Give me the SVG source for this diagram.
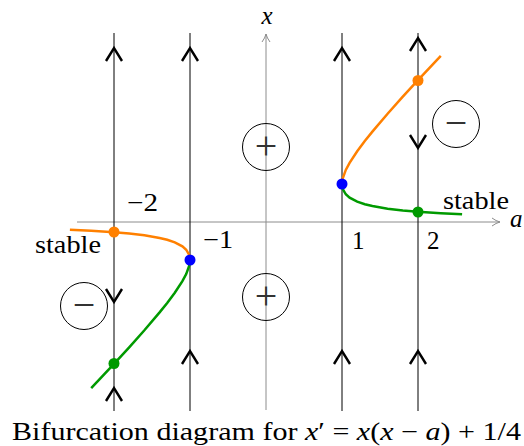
<svg xmlns="http://www.w3.org/2000/svg" width="524" height="446" viewBox="0 0 524 446">
<defs>
  <marker id="axhead" viewBox="0 0 10 10" refX="9" refY="5" markerWidth="10" markerHeight="10" markerUnits="userSpaceOnUse" orient="auto">
    <path d="M1,1 Q5,4 9,5 Q5,6 1,9" fill="none" stroke="#8c8c8c" stroke-width="1"/>
  </marker>
  <path id="up" d="M-8,13 L0,0 L8,13"/>
  <path id="down" d="M-8,-13 L0,0 L8,-13"/>
</defs>

<g id="axes" stroke="#8c8c8c" stroke-width="1" fill="none">
  <line x1="77" y1="222" x2="500" y2="222" marker-end="url(#axhead)"/>
  <line x1="266" y1="410" x2="266" y2="34" marker-end="url(#axhead)"/>
</g>
<g id="axis-labels" font-family="Liberation Serif" font-size="25" font-style="italic" fill="#000">
  <text x="510" y="227">a</text>
  <text x="267" y="24" text-anchor="middle">x</text>
</g>

<g id="phase-lines" stroke="#000" stroke-width="1">
  <line x1="114" y1="33" x2="114" y2="411"/>
  <line x1="190" y1="33" x2="190" y2="411"/>
  <line x1="342" y1="33" x2="342" y2="411"/>
  <line x1="418" y1="33" x2="418" y2="411"/>
</g>

<g id="connectors" stroke="#000" stroke-width="2.4" fill="none">
  <use href="#up" x="114" y="48"/>
  <use href="#down" x="114" y="302"/>
  <use href="#up" x="114" y="388"/>
  <use href="#up" x="190" y="48"/>
  <use href="#up" x="190" y="351"/>
  <use href="#up" x="342" y="48"/>
  <use href="#up" x="342" y="351"/>
  <use href="#up" x="418" y="38"/>
  <use href="#down" x="418" y="148"/>
  <use href="#up" x="418" y="351"/>
</g>

<g id="curves" stroke-width="2.5" fill="none">
  <path stroke="#ff8000" d="M342,184 L342.76,178.2 L345.8,169.9 L349.6,162.8 L357.2,151.2 L364.8,141.0 L372.4,131.6 L387.6,113.7 L402.8,96.7 L418,80.2 L440.8,55.9"/>
  <path stroke="#009a00" d="M342,184 L342.76,189.0 L345.8,194.3 L349.6,197.6 L357.2,201.6 L364.8,204.2 L372.4,206.0 L387.6,208.7 L402.8,210.5 L418,211.8 L440.8,213.3 L462.1,214.3"/>
  <path stroke="#ff8000" d="M190,260 L189.24,255.0 L186.2,249.7 L182.4,246.4 L174.8,242.4 L167.2,239.8 L159.6,238.0 L144.4,235.3 L129.2,233.5 L114,232.2 L91.2,230.7 L69.9,229.7"/>
  <path stroke="#009a00" d="M190,260 L189.24,265.8 L186.2,274.1 L182.4,281.2 L174.8,292.8 L167.2,303.0 L159.6,312.4 L144.4,330.3 L129.2,347.3 L114,363.8 L91.2,388.1"/>
</g>

<g id="equilibria">
  <circle cx="342" cy="184" r="5.5" fill="#0000ff"/>
  <circle cx="190" cy="260" r="5.5" fill="#0000ff"/>
  <circle cx="418" cy="80.5" r="5.5" fill="#ff8000"/>
  <circle cx="114" cy="232" r="5.5" fill="#ff8000"/>
  <circle cx="418" cy="212" r="5.5" fill="#009a00"/>
  <circle cx="114" cy="363.5" r="5.5" fill="#009a00"/>
</g>

<g id="sign-plus-top" font-family="Liberation Serif" font-size="40" text-anchor="middle">
  <circle cx="266" cy="147" r="23.5" fill="none" stroke="#000" stroke-width="1"/>
  <text x="266" y="159" fill="#333">+</text>
</g>
<g id="sign-plus-bottom" font-family="Liberation Serif" font-size="40" text-anchor="middle">
  <circle cx="266" cy="297" r="23.5" fill="none" stroke="#000" stroke-width="1"/>
  <text x="266" y="309" fill="#333">+</text>
</g>
<g id="sign-minus-right" font-family="Liberation Serif" font-size="40" text-anchor="middle">
  <circle cx="456" cy="124" r="23.5" fill="none" stroke="#000" stroke-width="1"/>
  <text x="456" y="136" fill="#333">−</text>
</g>
<g id="sign-minus-left" font-family="Liberation Serif" font-size="40" text-anchor="middle">
  <circle cx="84" cy="306" r="23.5" fill="none" stroke="#000" stroke-width="1"/>
  <text x="84" y="318" fill="#333">−</text>
</g>

<g id="labels" font-family="Liberation Serif" font-size="25" fill="#000">
  <text x="127" y="211" textLength="31" lengthAdjust="spacingAndGlyphs">−2</text>
  <text x="203" y="248" textLength="30" lengthAdjust="spacingAndGlyphs">−1</text>
  <text x="352" y="249">1</text>
  <text x="427" y="249">2</text>
  <text x="443" y="209" textLength="66" lengthAdjust="spacingAndGlyphs">stable</text>
  <text x="35" y="253" textLength="66" lengthAdjust="spacingAndGlyphs">stable</text>
</g>

<g id="caption" font-family="Liberation Serif" font-size="25" fill="#000">
  <text x="12" y="440" textLength="509" lengthAdjust="spacingAndGlyphs">Bifurcation diagram for <tspan font-style="italic">x</tspan>′ = <tspan font-style="italic">x</tspan>(<tspan font-style="italic">x</tspan> − <tspan font-style="italic">a</tspan>) + 1/4</text>
</g>
</svg>
